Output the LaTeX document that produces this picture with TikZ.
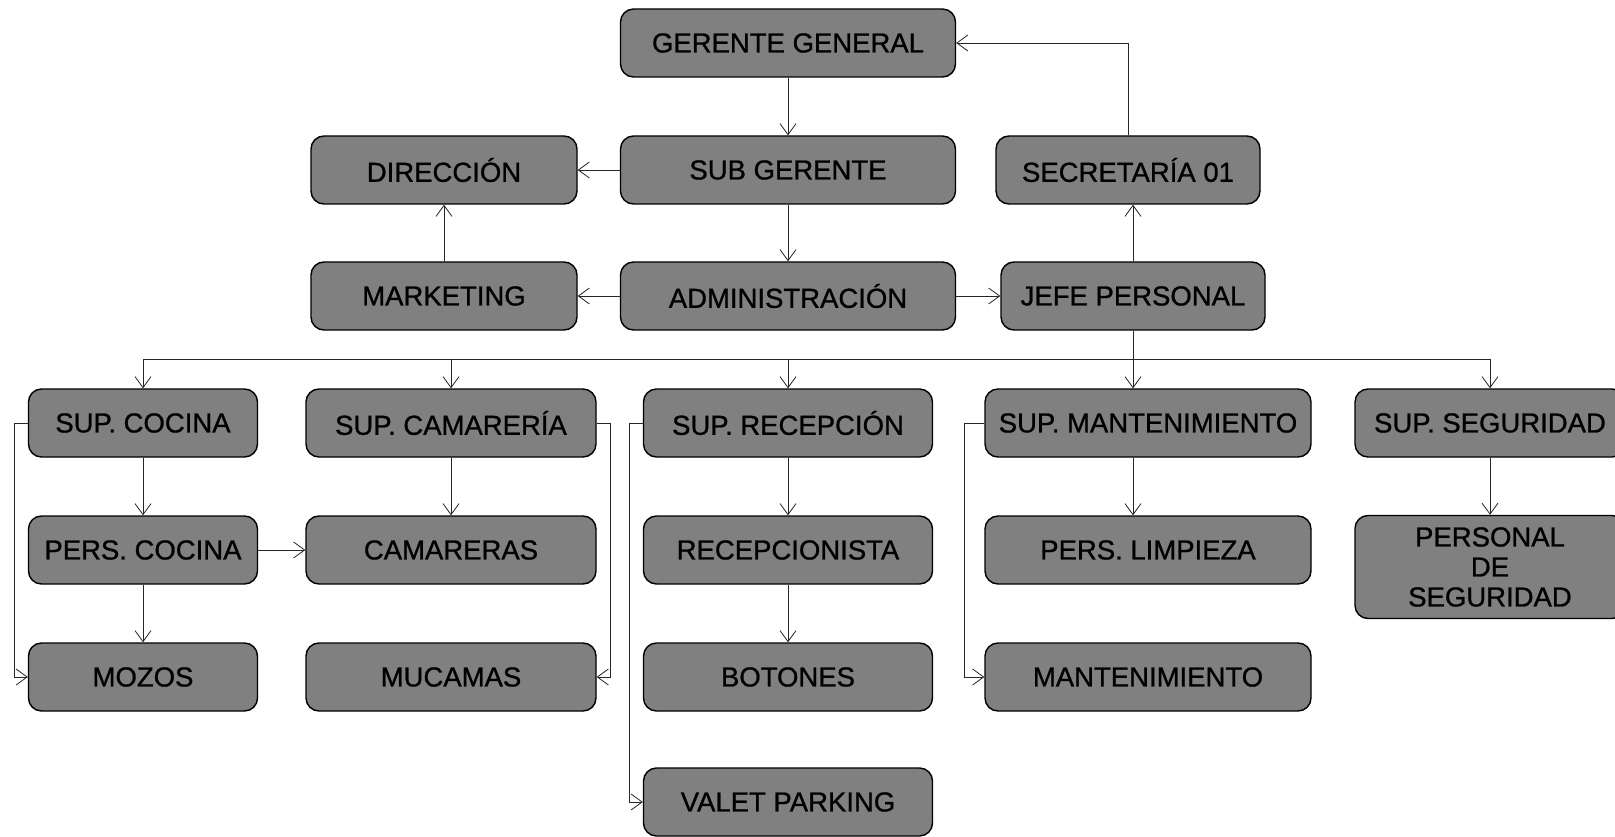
\documentclass[tikz,border=0pt]{standalone}
\usepackage{fontspec}
\setmainfont{Liberation Sans}
\newfontfamily\boxfont[FakeBold=0.9]{Liberation Sans}
\usetikzlibrary{arrows.meta}
\begin{document}
\begin{tikzpicture}[x=1pt,y=-1pt,
  box/.style={draw=black, line width=1.4pt, fill=boxgray, rounded corners=13pt,
    minimum height=68pt, inner sep=0pt, font=\boxfont\fontsize{27.5}{30}\selectfont, text=black},
  arr/.style={line width=0.9pt, draw=black!85, -{Straight Barb[length=11pt,width=16pt,line width=0.8pt]}},
  ln/.style={line width=0.9pt, draw=black!85}]
\definecolor{boxgray}{RGB}{128,128,128}
\useasboundingbox (0,0) rectangle (1615,837);
\fill[white] (0,0) rectangle (1615,837);
% top
\node[box, minimum width=335pt] (gg) at (788,43) {GERENTE GENERAL};
\node[box, minimum width=335pt] (sub) at (788,170) {SUB GERENTE};
\node[box, minimum width=266pt] (dir) at (444,170) {DIRECCIÓN};
\node[box, minimum width=264pt] (sec) at (1128,170) {SECRETARÍA 01};
\node[box, minimum width=266pt] (mkt) at (444,296) {MARKETING};
\node[box, minimum width=335pt] (adm) at (788,296) {ADMINISTRACIÓN};
\node[box, minimum width=264pt] (jefe) at (1133,296) {JEFE PERSONAL};
% row 3
\node[box, minimum width=229pt] (sc) at (143,423) {SUP. COCINA};
\node[box, minimum width=290pt] (scam) at (451,423) {SUP. CAMARERÍA};
\node[box, minimum width=289pt] (srec) at (788,423) {SUP. RECEPCIÓN};
\node[box, minimum width=326pt] (smant) at (1148,423) {SUP. MANTENIMIENTO};
\node[box, minimum width=270pt] (sseg) at (1490,423) {SUP. SEGURIDAD};
% row 4
\node[box, minimum width=229pt] (pc) at (143,550) {PERS. COCINA};
\node[box, minimum width=290pt] (cam) at (451,550) {CAMARERAS};
\node[box, minimum width=289pt] (recep) at (788,550) {RECEPCIONISTA};
\node[box, minimum width=326pt] (pl) at (1148,550) {PERS. LIMPIEZA};
\node[box, minimum width=270pt, minimum height=103pt, align=center] (pseg) at (1490,567) {PERSONAL\\DE\\SEGURIDAD};
% row 5
\node[box, minimum width=229pt] (moz) at (143,677) {MOZOS};
\node[box, minimum width=290pt] (muc) at (451,677) {MUCAMAS};
\node[box, minimum width=289pt] (bot) at (788,677) {BOTONES};
\node[box, minimum width=326pt] (mant) at (1148,677) {MANTENIMIENTO};
% row 6
\node[box, minimum width=289pt] (valet) at (788,802) {VALET PARKING};

\coordinate (bus) at (0,359);
\coordinate (lc) at (14,0);
\coordinate (rcam) at (610,0);
\coordinate (lrec) at (629,0);
\coordinate (lmant) at (964,0);

% upper connectors
\draw[arr] (gg) -- (sub);
\draw[arr] (sub) -- (dir);
\draw[arr] (sub) -- (adm);
\draw[arr] (mkt) -- (dir);
\draw[arr] (adm) -- (mkt);
\draw[arr] (adm) -- (jefe);
\draw[arr] (jefe.north) -- (jefe.north |- sec.south);
\draw[arr] (sec.north) |- (gg.east);

% bus
\draw[ln] (sc.north |- bus) -- (sseg.north |- bus);
\draw[arr] (jefe.south) -- (jefe.south |- smant.north);
\draw[arr] (sc.north |- bus) -- (sc.north);
\draw[arr] (scam.north |- bus) -- (scam.north);
\draw[arr] (srec.north |- bus) -- (srec.north);
\draw[arr] (sseg.north |- bus) -- (sseg.north);

% columns
\draw[arr] (sc) -- (pc);
\draw[arr] (pc) -- (moz);
\draw[arr] (pc) -- (cam);
\draw[arr] (sc.west) -- (sc.west -| lc) |- (moz.west);
\draw[arr] (scam) -- (cam);
\draw[arr] (scam.east) -- (scam.east -| rcam) |- (muc.east);
\draw[arr] (srec) -- (recep);
\draw[arr] (recep) -- (bot);
\draw[arr] (srec.west) -- (srec.west -| lrec) |- (valet.west);
\draw[arr] (smant.south -| jefe.south) -- (pl.north -| jefe.south);
\draw[arr] (smant.west) -- (smant.west -| lmant) |- (mant.west);
\draw[arr] (sseg) -- (pseg);
\end{tikzpicture}
\end{document}
